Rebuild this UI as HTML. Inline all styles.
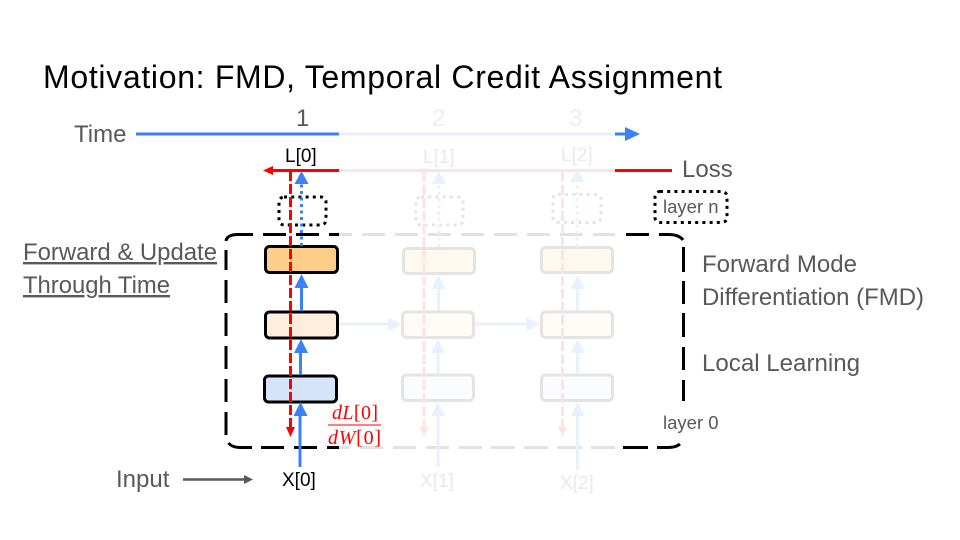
<!DOCTYPE html>
<html><head><meta charset="utf-8"><style>
html,body{margin:0;padding:0;background:#fff;width:960px;height:540px;overflow:hidden}
svg{display:block}
text{font-family:"Liberation Sans",Arial,sans-serif;fill:#595959}
.b{fill:#000}
.f{fill:#e9e9e9}
.m{font-family:"Liberation Serif",serif;font-style:italic;fill:#f00;font-size:20px}
.u{font-style:normal}
</style></head><body>
<svg width="960" height="540" viewBox="0 0 960 540" xmlns="http://www.w3.org/2000/svg">
<rect width="960" height="540" fill="#fff"/>
<text x="43" y="88" font-size="32" class="b" textLength="679" lengthAdjust="spacing">Motivation: FMD, Temporal Credit Assignment</text>

<!-- time -->
<text x="74" y="142" font-size="24">Time</text>
<text x="296" y="126" font-size="24">1</text>
<text x="432" y="126" font-size="24" style="fill:#eee">2</text>
<text x="569" y="126" font-size="24" style="fill:#eee">3</text>
<line x1="339" y1="134" x2="615" y2="134" stroke="#e9f1fd" stroke-width="3"/>
<line x1="136" y1="134" x2="339" y2="134" stroke="#3b82f6" stroke-width="3"/>
<line x1="615" y1="134" x2="626" y2="134" stroke="#3b82f6" stroke-width="3"/>
<polygon points="625,127 640,134 625,141" fill="#3b82f6"/>

<!-- loss -->
<text x="285" y="162" font-size="19" class="b">L[0]</text>
<text x="423" y="163" font-size="19" class="f">L[1]</text>
<text x="561" y="161" font-size="19" class="f">L[2]</text>
<text x="682" y="177" font-size="24">Loss</text>
<line x1="339" y1="170.5" x2="615" y2="170.5" stroke="#fde3e3" stroke-width="3"/>
<line x1="270" y1="170.5" x2="339" y2="170.5" stroke="#f00" stroke-width="3"/>
<line x1="615" y1="170.5" x2="672" y2="170.5" stroke="#f00" stroke-width="3"/>
<polygon points="263,170.5 273,166 273,175" fill="#f00"/>

<!-- dashed frame -->
<g fill="none" stroke-width="3">
<path stroke="#000" d="M226 241Q227 234.5 238 234.5H253M263 234.5H286M296 234.5H319M329 234.5H339
M339 447.5M226 250V270M226 280V303M226 313V336M226 346V369M226 379V402M226 412V435
M228.5 443Q232 447.5 240 447.5H252M261 447.5H284M294 447.5H317M327 447.5H339
M626 234.5H649M659 234.5H668Q679 234.5 683 240M683.5 247V272M683.5 281V304M683.5 313V337M683.5 347V370M683.5 380V401
M623 447.5H648M657 447.5H668Q676 447.5 680 444"/>
<path stroke="#e2e2e2" d="M339 234.5H352M362 234.5H385M395 234.5H418M428 234.5H451M461 234.5H484M494 234.5H517M527 234.5H550M560 234.5H583M593 234.5H615
M339 447.5H350M360 447.5H383M393 447.5H416M426 447.5H449M459 447.5H482M491 447.5H515M524 447.5H548M557 447.5H582M591 447.5H615"/>
</g>

<!-- dotted boxes -->
<g fill="none" stroke-width="3" stroke-dasharray="3 4.2">
<rect x="279" y="197" width="47" height="28" rx="5" stroke="#000"/>
<rect x="416" y="197" width="47" height="28" rx="5" stroke="#e4e4e4"/>
<rect x="553" y="194.5" width="48" height="28" rx="5" stroke="#e4e4e4"/>
<rect x="655" y="191.5" width="72" height="31" rx="5" stroke="#000"/>
</g>
<text x="663" y="213" font-size="18.5">layer n</text>
<text x="663" y="429" font-size="18.5">layer 0</text>

<!-- faded boxes -->
<g stroke="#e4e4e4" stroke-width="3">
<rect x="403.5" y="248.5" width="71" height="25" rx="4" fill="#fff9ef"/>
<rect x="402.5" y="312" width="71" height="25.5" rx="4" fill="#fffbf7"/>
<rect x="402.5" y="375" width="71" height="25.5" rx="4" fill="#fbfcff"/>
<rect x="541.5" y="247.5" width="71" height="25" rx="4" fill="#fff9ef"/>
<rect x="541.5" y="312" width="71" height="25.5" rx="4" fill="#fffbf7"/>
<rect x="541.5" y="375" width="71" height="25.5" rx="4" fill="#fbfcff"/>
</g>

<!-- faded connectors -->
<g stroke="#e9f1fd" stroke-width="3" fill="none">
<line x1="338" y1="324" x2="390" y2="324"/>
<line x1="475" y1="324" x2="530" y2="324"/>
<line x1="438.5" y1="311" x2="438.5" y2="285"/>
<line x1="438" y1="374" x2="438" y2="348"/>
<line x1="438" y1="467" x2="438" y2="410"/>
<line x1="577.5" y1="311" x2="577.5" y2="285"/>
<line x1="577.5" y1="374" x2="577.5" y2="348"/>
<line x1="577.5" y1="470" x2="577.5" y2="410"/>
<line x1="439" y1="247" x2="439" y2="182" stroke-dasharray="3 3.5"/>
<line x1="577" y1="247" x2="577" y2="182" stroke-dasharray="3 3.5"/>
</g>
<g fill="#e9f1fd">
<polygon points="388,317.5 402,324.5 388,331"/>
<polygon points="526,317.5 540,324.5 526,331"/>
<polygon points="438.5,275 431.5,289 445.5,289"/>
<polygon points="438,339 431,353 445,353"/>
<polygon points="438,402 431,416 445,416"/>
<polygon points="577.5,275 570.5,289 584.5,289"/>
<polygon points="577.5,339 570.5,353 584.5,353"/>
<polygon points="577.5,402 570.5,416 584.5,416"/>
<polygon points="439,171 432,184 446,184"/>
<polygon points="577,169 570,182 584,182"/>
</g>
<g stroke="#fde3e3" stroke-width="3" fill="none" stroke-dasharray="10 3">
<line x1="424" y1="172" x2="424" y2="428"/>
<line x1="562.5" y1="172" x2="562.5" y2="428"/>
</g>
<polygon points="419.5,427 428.5,427 424,437" fill="#fde3e3"/>
<polygon points="558,427 567,427 562.5,437" fill="#fde3e3"/>

<!-- main boxes -->
<g stroke="#000" stroke-width="3">
<rect x="265.5" y="246.5" width="72" height="26" rx="4" fill="#fdcd8a"/>
<rect x="265.5" y="312" width="72" height="26" rx="4" fill="#ffeedd"/>
<rect x="264.5" y="376" width="72" height="26" rx="4" fill="#d5e4fb"/>
</g>

<!-- main blue arrows -->
<g stroke="#3b82f6" fill="none">
<line x1="301.5" y1="311" x2="301.5" y2="284" stroke-width="3"/>
<line x1="300.5" y1="375" x2="300.5" y2="348" stroke-width="3"/>
<line x1="300" y1="467" x2="300" y2="412" stroke-width="3"/>
<line x1="301.5" y1="246" x2="301.5" y2="182" stroke-width="3" stroke-dasharray="3 3.5"/>
</g>
<g fill="#3b82f6">
<polygon points="301.5,274 294.5,288 308.5,288"/>
<polygon points="301,339 294,353 308,353"/>
<polygon points="300.5,402 293.5,416 307.5,416"/>
<polygon points="301.5,171 294.5,184 308.5,184"/>
</g>

<!-- main red dashed -->
<line x1="290.5" y1="171" x2="290.5" y2="428" stroke="#f00" stroke-width="3" stroke-dasharray="10 3"/>
<polygon points="286,427 295,427 290.5,437" fill="#f00"/>

<!-- fraction -->
<text x="332" y="419" class="m" textLength="46" lengthAdjust="spacing">dL<tspan class="u">[0]</tspan></text>
<line x1="328" y1="425" x2="381" y2="425" stroke="#f00" stroke-width="1"/>
<text x="328" y="444" class="m" textLength="53" lengthAdjust="spacing">dW<tspan class="u">[0]</tspan></text>

<!-- left text -->
<text x="23" y="260" font-size="24" text-decoration="underline" textLength="194" lengthAdjust="spacingAndGlyphs">Forward &amp; Update</text>
<text x="23" y="293" font-size="24" text-decoration="underline" textLength="147" lengthAdjust="spacingAndGlyphs">Through Time</text>
<text x="116" y="487" font-size="24">Input</text>
<line x1="183" y1="479.5" x2="246" y2="479.5" stroke="#595959" stroke-width="2.5"/>
<polygon points="244,475 253,479.5 244,484" fill="#595959"/>
<text x="282" y="486" font-size="19" class="b">X[0]</text>
<text x="420" y="487" font-size="19" class="f">X[1]</text>
<text x="560" y="489" font-size="19" class="f">X[2]</text>

<!-- right text -->
<text x="702" y="272" font-size="24" textLength="155" lengthAdjust="spacingAndGlyphs">Forward Mode</text>
<text x="702" y="305" font-size="24" textLength="222" lengthAdjust="spacingAndGlyphs">Differentiation (FMD)</text>
<text x="702" y="371" font-size="24" textLength="158" lengthAdjust="spacingAndGlyphs">Local Learning</text>
</svg>
</body></html>
